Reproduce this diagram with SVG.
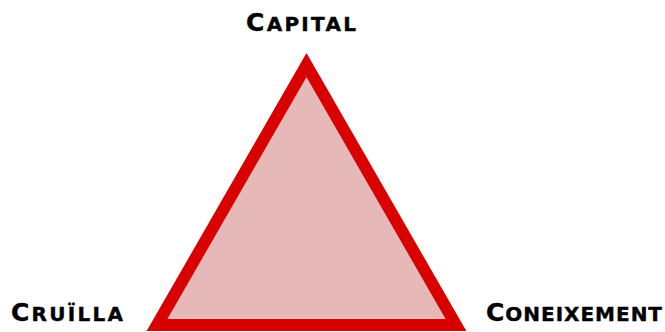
<svg xmlns="http://www.w3.org/2000/svg" width="665" height="332" viewBox="0 0 665 332">
<style>
.lbl{font-family:"DejaVu Sans",sans-serif;font-weight:bold;fill:#000;stroke:#000;stroke-width:0.4;}
.big{font-size:25px;}
.sm{font-size:20px;}
</style>
<rect width="665" height="332" fill="#fff"/>
<g id="triangle">
<polygon points="306.5,65 157,325 456,325" fill="#e6b9b8" stroke="#d90000" stroke-width="12" stroke-miterlimit="10"/>
</g>
<g id="capital">
<text class="lbl" x="246" y="31" textLength="110" lengthAdjust="spacing"><tspan class="big">C</tspan><tspan class="sm">APITAL</tspan></text>
</g>
<g id="cruilla">
<text class="lbl" x="11" y="321" textLength="112" lengthAdjust="spacing"><tspan class="big">C</tspan><tspan class="sm">RUÏLLA</tspan></text>
</g>
<g id="coneixement">
<text class="lbl" x="486" y="321" textLength="176" lengthAdjust="spacing"><tspan class="big">C</tspan><tspan class="sm">ONEIXEMENT</tspan></text>
</g>
<g id="connectors"></g>
</svg>
